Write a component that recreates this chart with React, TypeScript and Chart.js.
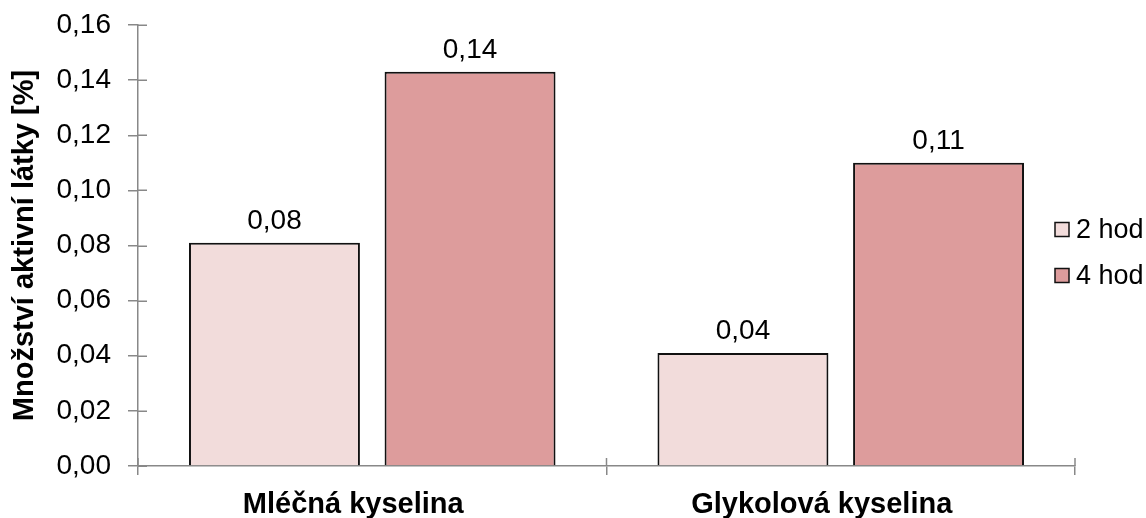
import React, { useEffect, useRef } from "react";
import { Chart, registerables } from "chart.js";

Chart.register(...registerables);

const categories = ["Mléčná kyselina", "Glykolová kyselina"];
const seriesNames = ["2 hod", "4 hod"];
const values2h = [0.081, 0.041];
const values4h = [0.143, 0.11];
const seriesColors = ["#F2DCDB", "#DD9C9C"];
const yAxisTitle = "Množství aktivní látky [%]";
const yMin = 0;
const yMax = 0.16;
const yStep = 0.02;

const FONT = '"Liberation Sans", Arial, Helvetica, sans-serif';
const AXIS = "#888888";
const fmt = (v: number) => Number(v).toFixed(2).replace(".", ",");

const crossTicks = {
  id: "crossTicks",
  afterDraw(chart: any) {
    const ctx = chart.ctx;
    const xs = chart.scales.x;
    const ys = chart.scales.y;
    ctx.save();
    ctx.strokeStyle = AXIS;
    ctx.lineWidth = 1.5;
    ys.ticks.forEach((_t: any, i: number) => {
      const py = Math.round(ys.getPixelForTick(i)) + 0.25;
      ctx.beginPath();
      ctx.moveTo(ys.right, py);
      ctx.lineTo(ys.right + 9, py);
      ctx.stroke();
    });
    const n = xs.ticks.length;
    for (let i = 0; i <= n; i++) {
      const px = xs.left + (i * (xs.right - xs.left)) / n;
      ctx.beginPath();
      ctx.moveTo(px, xs.top);
      ctx.lineTo(px, xs.top - 8);
      ctx.stroke();
    }
    ctx.restore();
  },
};

const dataLabels = {
  id: "dataLabels",
  afterDatasetsDraw(chart: any) {
    const ctx = chart.ctx;
    ctx.save();
    ctx.font = `28px ${FONT}`;
    ctx.fillStyle = "#000";
    ctx.textAlign = "center";
    ctx.textBaseline = "alphabetic";
    chart.data.datasets.forEach((ds: any, di: number) => {
      const meta = chart.getDatasetMeta(di);
      meta.data.forEach((bar: any, i: number) => {
        ctx.fillText(fmt(ds.data[i]), bar.x, bar.y - 14);
      });
    });
    ctx.restore();
  },
};

const sideLegend = {
  id: "sideLegend",
  afterDraw(chart: any) {
    const ctx = chart.ctx;
    const area = chart.chartArea;
    const bx = area.right - 20;
    const mid = (area.top + area.bottom) / 2 + 7;
    ctx.save();
    ctx.font = `27px ${FONT}`;
    ctx.textAlign = "left";
    ctx.textBaseline = "middle";
    chart.data.datasets.forEach((ds: any, i: number) => {
      const cy = mid + (i - 0.5) * 46;
      ctx.fillStyle = ds.backgroundColor;
      ctx.fillRect(bx, cy - 7, 14, 14);
      ctx.strokeStyle = "#111";
      ctx.lineWidth = 1.5;
      ctx.strokeRect(bx, cy - 7, 14, 14);
      ctx.fillStyle = "#000";
      ctx.fillText(ds.label, bx + 21, cy + 1);
    });
    ctx.restore();
  },
};

export default function App() {
  const ref = useRef<HTMLCanvasElement | null>(null);

  useEffect(() => {
    document.body.style.margin = "0";
    const canvas = ref.current;
    if (!canvas) return;
    const chart = new Chart(canvas, {
      type: "bar",
      data: {
        labels: categories,
        datasets: [
          {
            label: seriesNames[0],
            data: values2h,
            backgroundColor: seriesColors[0],
            borderColor: "#111",
            borderWidth: 2,
          },
          {
            label: seriesNames[1],
            data: values4h,
            backgroundColor: seriesColors[1],
            borderColor: "#111",
            borderWidth: 2,
          },
        ],
      },
      options: {
        responsive: false,
        animation: false,
        devicePixelRatio: 1,
        layout: { padding: { top: 25, right: 71, left: 0, bottom: 0 } },
        datasets: {
          bar: { categoryPercentage: 0.835, barPercentage: 0.874 },
        },
        plugins: {
          legend: { display: false },
          tooltip: { enabled: false },
        },
        scales: {
          x: {
            ticks: {
              font: { family: FONT, size: 29, weight: "bold" },
              color: "#000",
              padding: 13,
              labelOffset: -19,
              maxRotation: 0,
              autoSkip: false,
            },
            grid: {
              drawOnChartArea: false,
              color: AXIS,
              lineWidth: 1.5,
              tickLength: 9,
              offset: true,
            },
            border: { color: AXIS, width: 1.5 },
            afterFit: (s: any) => {
              s.height = 52;
            },
          },
          y: {
            min: yMin,
            max: yMax,
            ticks: {
              stepSize: yStep,
              callback: (v: any) => fmt(v),
              font: { family: FONT, size: 28 },
              color: "#000",
              padding: 17,
            },
            grid: {
              drawOnChartArea: false,
              color: AXIS,
              lineWidth: 1.5,
              tickLength: 10,
            },
            border: { color: AXIS, width: 1.5 },
            title: {
              display: true,
              text: yAxisTitle,
              font: { family: FONT, size: 29, weight: "bold" },
              color: "#000",
              padding: { top: 8, bottom: 0 },
            },
            afterFit: (s: any) => {
              s.width = 138;
              s.paddingTop = 0;
              s.paddingBottom = 0;
            },
          },
        },
      } as any,
      plugins: [crossTicks, dataLabels, sideLegend],
    });
    return () => chart.destroy();
  }, []);

  return (
    <div style={{ width: 1146, height: 518, background: "#fff" }}>
      <canvas ref={ref} width={1146} height={518} style={{ display: "block" }} />
    </div>
  );
}
